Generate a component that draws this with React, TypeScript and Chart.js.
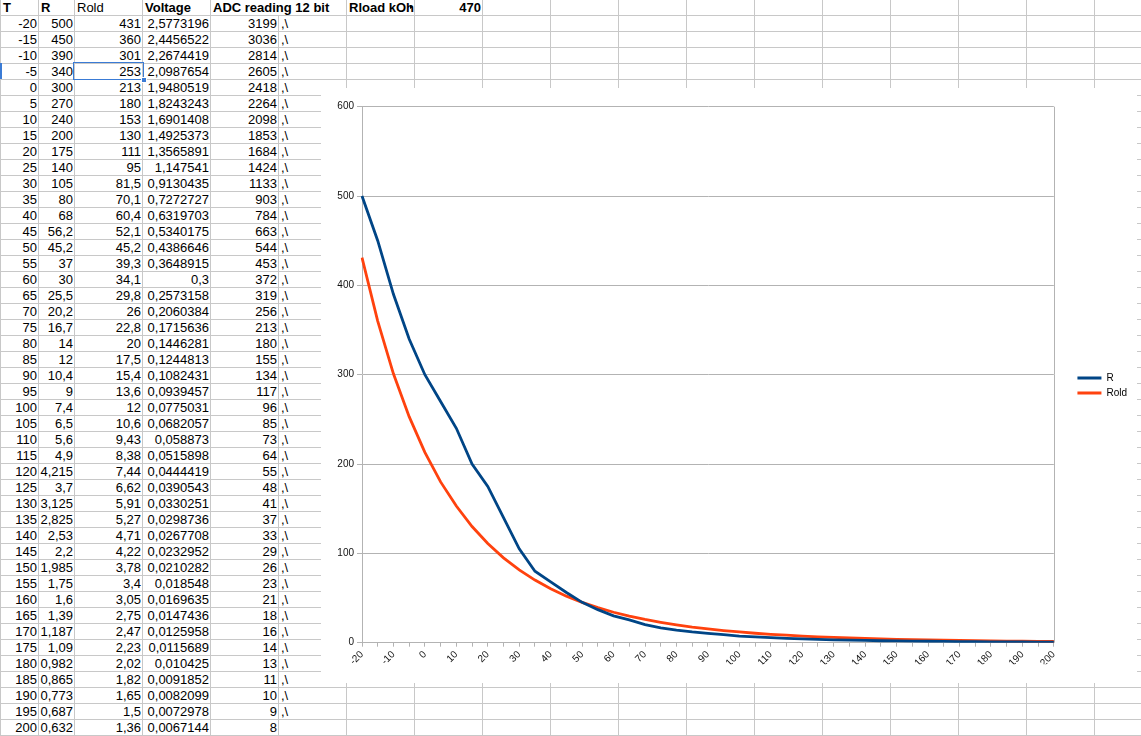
import React, { useEffect, useRef } from 'react';
import { Chart, registerables } from 'chart.js';

Chart.register(...registerables);

// ---------- data ----------
const T = [-20, -15, -10, -5, 0, 5, 10, 15, 20, 25, 30, 35, 40, 45, 50, 55, 60, 65, 70, 75, 80, 85, 90, 95, 100, 105, 110, 115, 120, 125, 130, 135, 140, 145, 150, 155, 160, 165, 170, 175, 180, 185, 190, 195, 200];
const R = [500, 450, 390, 340, 300, 270, 240, 200, 175, 140, 105, 80, 68, 56.2, 45.2, 37, 30, 25.5, 20.2, 16.7, 14, 12, 10.4, 9, 7.4, 6.5, 5.6, 4.9, 4.215, 3.7, 3.125, 2.825, 2.53, 2.2, 1.985, 1.75, 1.6, 1.39, 1.187, 1.09, 0.982, 0.865, 0.773, 0.687, 0.632];
const ROLD = [431, 360, 301, 253, 213, 180, 153, 130, 111, 95, 81.5, 70.1, 60.4, 52.1, 45.2, 39.3, 34.1, 29.8, 26, 22.8, 20, 17.5, 15.4, 13.6, 12, 10.6, 9.43, 8.38, 7.44, 6.62, 5.91, 5.27, 4.71, 4.22, 3.78, 3.4, 3.05, 2.75, 2.47, 2.23, 2.02, 1.82, 1.65, 1.5, 1.36];
const VOLTAGE = [2.5773196, 2.4456522, 2.2674419, 2.0987654, 1.9480519, 1.8243243, 1.6901408, 1.4925373, 1.3565891, 1.147541, 0.9130435, 0.7272727, 0.6319703, 0.5340175, 0.4386646, 0.3648915, 0.3, 0.2573158, 0.2060384, 0.1715636, 0.1446281, 0.1244813, 0.1082431, 0.0939457, 0.0775031, 0.0682057, 0.058873, 0.0515898, 0.0444419, 0.0390543, 0.0330251, 0.0298736, 0.0267708, 0.0232952, 0.0210282, 0.018548, 0.0169635, 0.0147436, 0.0125958, 0.0115689, 0.010425, 0.0091852, 0.0082099, 0.0072978, 0.0067144];
const ADC = [3199, 3036, 2814, 2605, 2418, 2264, 2098, 1853, 1684, 1424, 1133, 903, 784, 663, 544, 453, 372, 319, 256, 213, 180, 155, 134, 117, 96, 85, 73, 64, 55, 48, 41, 37, 33, 29, 26, 23, 21, 18, 16, 14, 13, 11, 10, 9, 8];
const HEADERS = ['T', 'R', 'Rold', 'Voltage', 'ADC reading 12 bit'];
const SERIES_NAMES = ['R', 'Rold'];
const RLOAD_LABEL = 'Rload kOhm';
const RLOAD_VALUE = '470';
const Y_MIN = 0;
const Y_MAX = 600;
const Y_STEP = 100;

// ---------- layout constants ----------
const FONT = '"Liberation Sans", Arial, sans-serif';
const ROW_H = 16;
const COLS: number[] = [0, 38, 74, 142, 210, 278];
for (let x = 346; x < 1141 + 68; x += 68) COLS.push(x);
const GRID = '#c8c8c8';

const fmt = (v: number) => String(v).replace('.', ',');

function Cell(props: { col: number; row: number; text: string; align?: 'left' | 'right'; bold?: boolean; span?: number; bg?: string; clip?: boolean }) {
  const { col, row, text, align = 'right', bold = false, span = 1, bg, clip } = props;
  const left = COLS[col] + 1;
  const width = COLS[col + span] - COLS[col] - 1;
  return (
    <div
      style={{
        position: 'absolute',
        left,
        top: row * ROW_H,
        width,
        height: 15,
        lineHeight: '16px',
        fontSize: 13,
        fontFamily: FONT,
        fontWeight: bold ? 'bold' : 'normal',
        textAlign: align,
        whiteSpace: 'nowrap',
        overflow: clip ? 'hidden' : 'visible',
        paddingLeft: align === 'left' ? 2 : 0,
        paddingRight: align === 'right' ? 1 : 0,
        boxSizing: 'border-box',
        background: bg,
        color: '#000',
        zIndex: 1,
      }}
    >
      {text}
    </div>
  );
}

export default function App() {
  const canvasRef = useRef<HTMLCanvasElement | null>(null);

  useEffect(() => {
    if (!canvasRef.current) return;
    const borderPlugin = {
      id: 'plotBorder',
      afterDraw(chart: any) {
        const { ctx, chartArea } = chart;
        ctx.save();
        ctx.strokeStyle = '#b3b3b3';
        ctx.lineWidth = 1;
        ctx.beginPath();
        const x = Math.round(chartArea.right) + 0.5;
        ctx.moveTo(x, chartArea.top);
        ctx.lineTo(x, chartArea.bottom);
        ctx.stroke();
        ctx.restore();
      },
    };
    const colors = ['#004586', '#ff420e'];
    const chart = new Chart(canvasRef.current, {
      type: 'line',
      data: {
        labels: T.map(String),
        datasets: [R, ROLD].map((d, i) => ({
          label: SERIES_NAMES[i],
          data: d,
          borderColor: colors[i],
          backgroundColor: colors[i],
          borderWidth: 2.8,
          pointRadius: 0,
          pointHoverRadius: 0,
          tension: 0,
          fill: false,
          yAxisID: 'y',
        })),
      },
      options: {
        animation: false,
        responsive: false,
        devicePixelRatio: 1,
        events: [],
        layout: { padding: { top: 18.7, bottom: 18.7, left: 0, right: 0 } },
        scales: {
          x: {
            type: 'category',
            offset: false,
            grid: { drawOnChartArea: false, drawTicks: true, tickLength: 4, color: '#b3b3b3' },
            border: { color: '#b3b3b3' },
            ticks: {
              autoSkip: false,
              minRotation: 45,
              maxRotation: 45,
              padding: 2,
              color: '#111',
              font: { family: FONT, size: 10 },
              callback: (_v: any, i: number) => (T[i] % 10 === 0 ? String(T[i]) : ''),
            },
            afterFit: (s: any) => { s.height = 21.6; },
          },
          y: {
            type: 'linear',
            min: Y_MIN,
            max: Y_MAX,
            grid: { color: '#b3b3b3', tickLength: 5 },
            border: { color: '#b3b3b3' },
            ticks: { stepSize: Y_STEP, padding: 3, color: '#111', font: { family: FONT, size: 10 } },
            afterFit: (s: any) => { s.width = 41; },
          },
          y2: {
            type: 'linear',
            position: 'right',
            display: true,
            grid: { display: false },
            border: { display: false },
            ticks: { display: false },
            afterFit: (s: any) => { s.width = 18.6; },
          },
        },
        plugins: {
          legend: {
            position: 'right',
            labels: {
              boxWidth: 24,
              boxHeight: 3,
              padding: 5,
              color: '#000',
              font: { family: FONT, size: 10 },
              generateLabels: (c: any) =>
                c.data.datasets.map((ds: any, i: number) => ({
                  text: ds.label,
                  fillStyle: ds.borderColor,
                  strokeStyle: ds.borderColor,
                  lineWidth: 0,
                  hidden: false,
                  datasetIndex: i,
                  fontColor: '#000',
                })),
            },
          },
          tooltip: { enabled: false },
        },
      },
      plugins: [borderPlugin],
    } as any);
    return () => chart.destroy();
  }, []);

  const vLines = COLS.filter((x) => x < 1141);
  const hLines: number[] = [];
  for (let k = 0; k <= 46; k++) hLines.push(15 + ROW_H * k);

  return (
    <div style={{ position: 'fixed', left: 0, top: 0, width: 1141, height: 736, overflow: 'hidden', background: '#fff' }}>
      {vLines.map((x) => (
        <div key={'v' + x} style={{ position: 'absolute', left: x, top: 0, width: 1, height: 736, background: GRID }} />
      ))}
      {hLines.map((y) => (
        <div key={'h' + y} style={{ position: 'absolute', left: 0, top: y, width: 1141, height: 1, background: GRID }} />
      ))}
      {/* header row */}
      <Cell col={0} row={0} text={HEADERS[0]} align="left" bold />
      <Cell col={1} row={0} text={HEADERS[1]} align="left" bold />
      <Cell col={2} row={0} text={HEADERS[2]} align="left" />
      <Cell col={3} row={0} text={HEADERS[3]} align="left" bold />
      <Cell col={4} row={0} text={HEADERS[4]} align="left" bold span={2} bg="#fff" />
      <Cell col={6} row={0} text={RLOAD_LABEL} align="left" bold clip />
      <div style={{ position: 'absolute', left: 410, top: 5, width: 0, height: 0, borderTop: '2.5px solid transparent', borderBottom: '2.5px solid transparent', borderLeft: '3px solid #000', zIndex: 2 }} />
      <Cell col={7} row={0} text={RLOAD_VALUE} align="right" bold />
      {T.map((t, i) => (
        <React.Fragment key={t}>
          <Cell col={0} row={i + 1} text={String(t)} />
          <Cell col={1} row={i + 1} text={fmt(R[i])} />
          <Cell col={2} row={i + 1} text={fmt(ROLD[i])} />
          <Cell col={3} row={i + 1} text={fmt(VOLTAGE[i])} />
          <Cell col={4} row={i + 1} text={String(ADC[i])} />
          {i < T.length - 1 ? <Cell col={5} row={i + 1} text={',\\'} align="left" /> : null}
        </React.Fragment>
      ))}
      {/* selection */}
      <div style={{ position: 'absolute', left: 0, top: 63, width: 2, height: 16, background: '#3a7bd5', zIndex: 3 }} />
      <div style={{ position: 'absolute', left: 73, top: 62, width: 71, height: 18, border: '1.5px solid #3a7bd5', boxSizing: 'border-box', zIndex: 3 }} />
      <div style={{ position: 'absolute', left: 141, top: 77, width: 4, height: 4, background: '#3a7bd5', border: '1px solid #fff', zIndex: 4 }} />
      <canvas
        ref={canvasRef}
        width={816}
        height={595}
        style={{ position: 'absolute', left: 321, top: 88, width: 816, height: 595, background: '#fff', zIndex: 5, display: 'block' }}
      />
    </div>
  );
}
